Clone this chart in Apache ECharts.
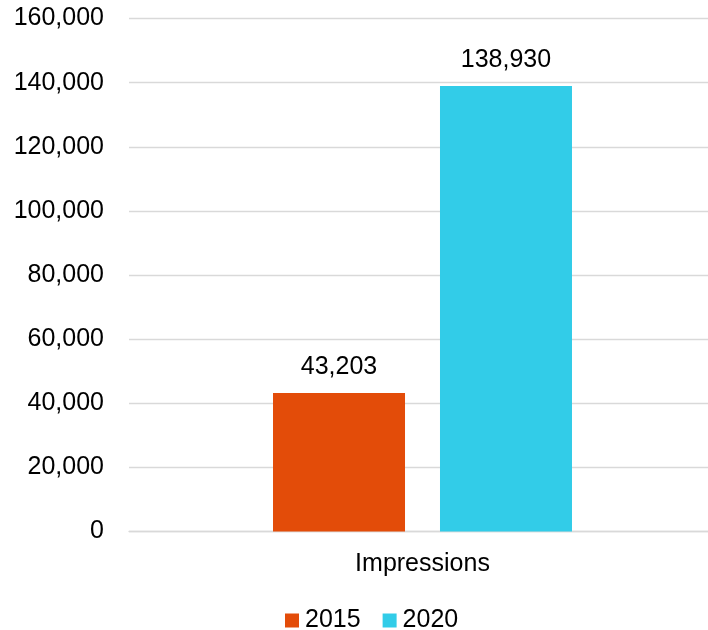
<!DOCTYPE html>
<html><head><meta charset="utf-8">
<script src="https://cdn.jsdelivr.net/npm/echarts@6/dist/echarts.min.js"></script>
<style>html,body{margin:0;padding:0;background:#fff;overflow:hidden;width:708px;height:630px}#c{width:716px;height:630px}</style>
</head><body><div id="c"></div>
<script>
const categories = ['Impressions'];
const seriesNames = ['2015', '2020'];
const values2015 = [43203];
const values2020 = [138930];
const colors = ['#E34C09', '#32CCE8'];
const yTicks = { min: 0, max: 160000, interval: 20000 };

const font = 'Liberation Sans, Arial, sans-serif';
const chart = echarts.init(document.getElementById('c'), null, { renderer: 'canvas' });
const fmt = v => v.toLocaleString('en-US');
chart.setOption({
  animation: false,
  textStyle: { fontFamily: font },
  grid: { left: 129, top: 18.5, bottom: 98.5, right: 0, containLabel: false },
  legend: {
    data: seriesNames, left: 280, top: 603, itemWidth: 14, itemHeight: 14, itemGap: 22,
    icon: 'rect',
    textStyle: { fontSize: 25, color: '#000', fontFamily: font, padding: [0, 0, 0, 1] }
  },
  xAxis: {
    type: 'category', data: categories,
    axisLine: { show: true, lineStyle: { color: '#d9d9d9', width: 1.3 } },
    axisTick: { show: false },
    axisLabel: { fontSize: 25, color: '#000', margin: 20, fontFamily: font }
  },
  yAxis: {
    type: 'value', min: yTicks.min, max: yTicks.max, interval: yTicks.interval,
    axisLine: { show: false }, axisTick: { show: false },
    splitLine: { lineStyle: { color: '#d9d9d9', width: 1.3 } },
    axisLabel: { fontSize: 25, color: '#000', margin: 25, fontFamily: font, formatter: fmt }
  },
  series: [
    { name: seriesNames[0], type: 'bar', data: values2015, barWidth: 132, barGap: '26.5%',
      itemStyle: { color: colors[0] },
      label: { show: true, position: 'top', distance: 13, fontSize: 25, color: '#000', fontFamily: font, formatter: p => fmt(p.value) } },
    { name: seriesNames[1], type: 'bar', data: values2020, barWidth: 132,
      itemStyle: { color: colors[1] },
      label: { show: true, position: 'top', distance: 13, fontSize: 25, color: '#000', fontFamily: font, formatter: p => fmt(p.value) } }
  ]
});
</script></body></html>
